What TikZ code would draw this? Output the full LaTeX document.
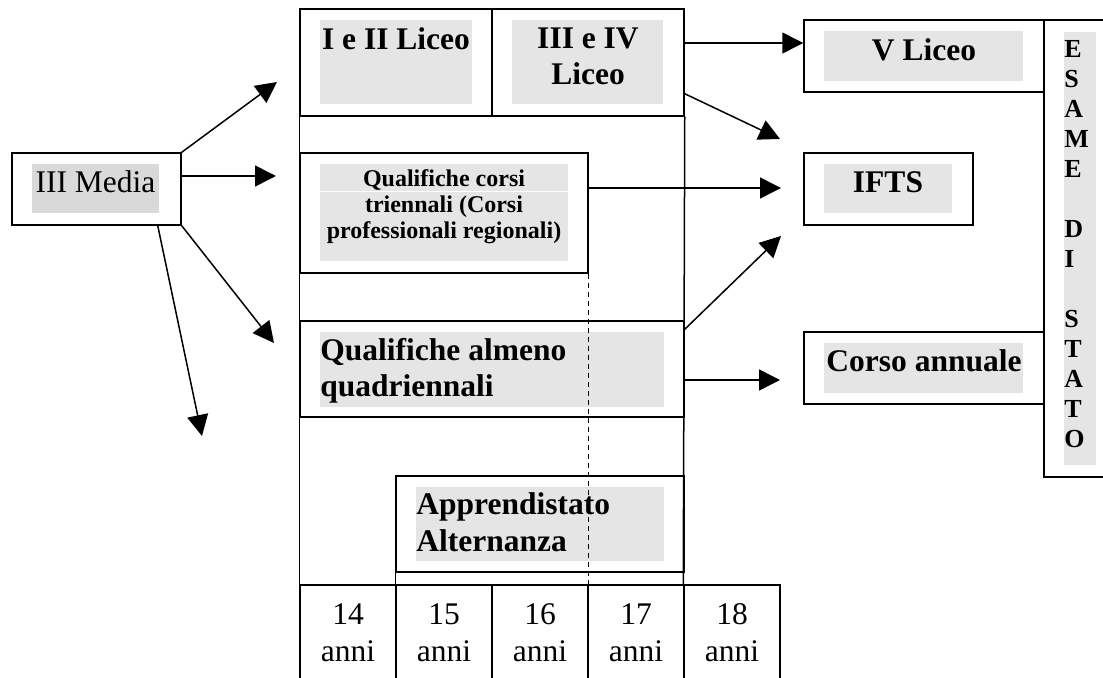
\documentclass[tikz,border=0pt]{standalone}
\usepackage{fontspec}
\setmainfont{Liberation Serif}
\usetikzlibrary{fit,arrows.meta}
\definecolor{shade}{RGB}{229,229,229}
\definecolor{shadeb}{RGB}{217,217,217}
\tikzset{
  box/.style={draw, line width=0.75pt, inner sep=0pt},
  shadefill/.style={fill=shade, draw=none, inner sep=0pt},
  lbl/.style={inner sep=0pt, anchor=base},
  lbll/.style={inner sep=0pt, anchor=base west},
  bigb/.style={font=\fontsize{15.75}{18}\selectfont\bfseries},
  bigr/.style={font=\fontsize{15.75}{18}\selectfont},
  smallb/.style={font=\fontsize{12}{14}\selectfont\bfseries},
  letb/.style={font=\fontsize{13}{14}\selectfont\bfseries},
  arr/.style={line width=0.75pt, -{Triangle[length=10.5pt,width=10.5pt]}},
  dashline/.style={line width=0.4pt, dash pattern=on 2.5pt off 2pt},
}
\begin{document}
\begin{tikzpicture}[x=0.5pt, y=-0.5pt]
\useasboundingbox (0,0) rectangle (1103,678);
\clip (0,0) rectangle (1103,678);

% gray backgrounds
\node[shadefill, fill=shadeb, fit={(32,164) (159,213)}] (gmedia) {};
\node[shadefill, fit={(320,20) (472,104)}] (g12) {};
\node[shadefill, fit={(512,20) (663,104)}] (g34) {};
\node[shadefill, fit={(320,164) (568,191.5)}] (gqta) {};
\node[shadefill, fit={(320,192.5) (568,261)}] (gqtb) {};
\node[shadefill, fit={(320,332) (664,407)}] (gqa) {};
\node[shadefill, fit={(416,487) (664,561)}] (gappr) {};
\node[shadefill, fit={(824,31) (1023,81)}] (gvl) {};
\node[shadefill, fit={(824,164) (952,213)}] (gifts) {};
\node[shadefill, fit={(824,343) (1023,393)}] (gcorso) {};
\node[shadefill, fit={(1064,32) (1096,465)}] (gesame) {};

% boxes
\node[box, fit={(12,153) (181,225)}] (media) {};
\node[box, fit={(300,9) (492,116)}] (liceo12) {};
\node[box, fit={(492,9) (684,116)}] (liceo34) {};
\node[box, fit={(300,153) (588,273)}] (qt) {};
\node[box, fit={(300,321) (684,417)}] (qa) {};
\node[box, fit={(396,476) (684,572)}] (appr) {};
\node[box, fit={(300,585) (396,700)}] (a14) {};
\node[box, fit={(396,585) (492,700)}] (a15) {};
\node[box, fit={(492,585) (588,700)}] (a16) {};
\node[box, fit={(588,585) (684,700)}] (a17) {};
\node[box, fit={(684,585) (780,700)}] (a18) {};
\node[box, fit={(804,20) (1044,92)}] (vl) {};
\node[box, fit={(804,153) (973,225)}] (ifts) {};
\node[box, fit={(804,332) (1044,404)}] (corso) {};
\node[box, fit={(1044,20) (1112,477)}] (esame) {};

% column side lines
\draw[line width=0.75pt] (liceo12.south west) -- (a14.north west);
\draw[line width=0.75pt] (liceo34.south east) -- (a18.north west);
\draw[line width=0.75pt] (appr.south west) -- (a15.north west);
\draw[dashline] (qt.south east) -- (a16.north east);

% texts
\node[lbl, bigr] (tmedia) at (95.5,193) {III Media};
\node[lbl, bigb] (t12) at (396,50) {I e II Liceo};
\node[lbl, bigb] (t34a) at (588,49) {III e IV};
\node[lbl, bigb] (t34b) at (588,85) {Liceo};
\node[lbl, smallb] (tqt1) at (444,187) {Qualifiche corsi};
\node[lbl, smallb] (tqt2) at (444,212.5) {triennali (Corsi};
\node[lbl, smallb] (tqt3) at (444,239) {professionali regionali)};
\node[lbll, bigb] (tqa1) at (320,361) {Qualifiche almeno};
\node[lbll, bigb] (tqa2) at (320,397) {quadriennali};
\node[lbll, bigb] (tap1) at (416,515) {Apprendistato};
\node[lbll, bigb] (tap2) at (416,551) {Alternanza};
\foreach \n [count=\k from 0] in {14,15,16,17,18} {
  \node[lbl, bigr] (n\n) at ({348+96*\k},624) {\n};
  \node[lbl, bigr] (y\n) at ({348+96*\k},661) {anni};
}
\node[lbl, bigb] (tvl) at (924,61) {V Liceo};
\node[lbl, bigb] (tifts) at (888,193) {IFTS};
\node[lbl, bigb] (tcorso) at (924,372) {Corso annuale};
\foreach \l/\k in {E/0,S/1,A/2,M/3,E/4,D/6,I/7,S/9,T/10,A/11,T/12,O/13} {
  \node[lbll, letb] (e\k) at (1064,{58+30*\k}) {\l};
}

% free arrow ends
\coordinate (t1) at (277,82);
\coordinate (t2) at (276,176);
\coordinate (t3) at (274,343);
\coordinate (t4) at (202,436);
\coordinate (t6) at (780,139);
\coordinate (t7) at (781,188);
\coordinate (t8) at (781,236);
\coordinate (t9) at (780,380);

% arrows
\draw[arr] (media.north east) -- (t1);
\draw[arr] (media.east |- t2) -- (t2);
\draw[arr] (media.south east) -- (t3);
\draw[arr] ([xshift=-12pt]media.south east) -- (t4);
\draw[arr] ([yshift=9.75pt]liceo34.east) -- ([yshift=9.75pt]liceo34.east -| vl.west);
\draw[arr] ([yshift=11.5pt]liceo34.south east) -- (t6);
\draw[arr] ([yshift=12.5pt]qt.east) -- (t7);
\draw[arr] ([yshift=-4.5pt]qa.north east) -- (t8);
\draw[arr] ([yshift=-5.5pt]qa.east) -- (t9);
\end{tikzpicture}
\end{document}
